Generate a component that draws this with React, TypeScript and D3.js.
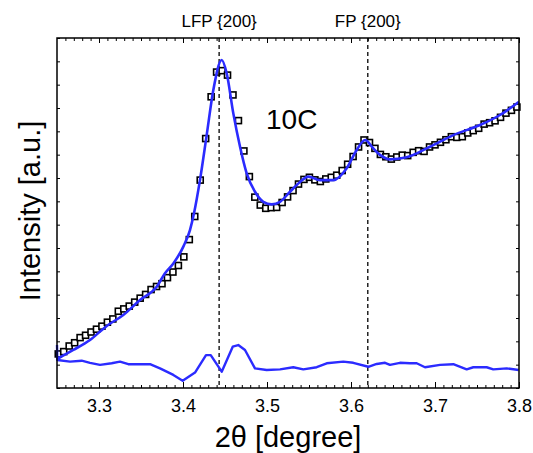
import { useRef, useEffect } from 'react';
import * as d3 from 'd3';

// observed pattern (2theta in degree, intensity in a.u.)
const twoTheta = [
  3.2515, 3.258, 3.2645, 3.271, 3.2775, 3.284, 3.2905, 3.297, 3.3035, 3.31,
  3.3165, 3.323, 3.3295, 3.336, 3.3425, 3.349, 3.3555, 3.362, 3.3685, 3.375,
  3.3815, 3.388, 3.3945, 3.401, 3.4075, 3.414, 3.4205, 3.427, 3.4335, 3.44,
  3.4465, 3.453, 3.4595, 3.466, 3.4725, 3.479, 3.4855, 3.492, 3.4985, 3.505,
  3.5115, 3.518, 3.5245, 3.531, 3.5375, 3.544, 3.5505, 3.557, 3.5635, 3.57,
  3.5765, 3.583, 3.5895, 3.596, 3.6025, 3.609, 3.6155, 3.622, 3.6285, 3.635,
  3.6415, 3.648, 3.6545, 3.661, 3.6675, 3.674, 3.6805, 3.687, 3.6935, 3.7,
  3.7065, 3.713, 3.7195, 3.726, 3.7325, 3.739, 3.7455, 3.752, 3.7585, 3.765,
  3.7715, 3.778, 3.7845, 3.791, 3.7975
];
const observed = [
  146, 156, 180, 194, 216, 226, 240, 252, 265, 282,
  296, 329, 339, 351, 368, 385, 401, 422, 435, 447,
  473, 497, 525, 562, 636, 735, 891, 1069, 1248, 1354,
  1360, 1341, 1256, 1146, 1016, 906, 818, 784, 770, 773,
  774, 795, 819, 846, 874, 894, 903, 892, 885, 896,
  903, 912, 932, 959, 992, 1033, 1063, 1052, 1027, 1001,
  991, 981, 990, 998, 996, 1010, 1017, 1014, 1033, 1042,
  1053, 1064, 1077, 1074, 1077, 1093, 1103, 1113, 1131, 1137,
  1145, 1160, 1178, 1190, 1204
];

// fitted profile
const fitTheta = [
  3.25, 3.2694, 3.2893, 3.3092, 3.3289, 3.3488, 3.3687, 3.3786, 3.3885, 3.4004,
  3.4083, 3.4131, 3.4202, 3.4282, 3.4361, 3.4461, 3.452, 3.4599, 3.4679, 3.4758,
  3.4857, 3.4956, 3.5056, 3.5155, 3.5274, 3.5393, 3.5492, 3.5631, 3.5789, 3.5949,
  3.6068, 3.6167, 3.6266, 3.6345, 3.6464, 3.6663, 3.694, 3.7218, 3.7536, 3.7774,
  3.8
];
const fitted = [
  124, 163, 206, 266, 313, 377, 434, 492, 534, 606,
  677, 749, 891, 1084, 1277, 1406, 1349, 1177, 1034, 920,
  841, 798, 787, 798, 841, 883, 906, 891, 891, 942,
  1020, 1063, 1027, 999, 980, 989, 1034, 1084, 1127, 1170,
  1227
];

// difference curve (offset)
const diffTheta = [
  3.25, 3.2504, 3.2655, 3.2794, 3.2893, 3.3012, 3.3151, 3.325, 3.3349, 3.3607,
  3.3726, 3.3885, 3.3996, 3.4143, 3.4274, 3.433, 3.4461, 3.4592, 3.4658, 3.4738,
  3.4857, 3.4996, 3.5155, 3.5313, 3.5432, 3.5592, 3.5711, 3.5908, 3.6027, 3.6206,
  3.6306, 3.6405, 3.6464, 3.6583, 3.6702, 3.6782, 3.6881, 3.706, 3.7218, 3.7377,
  3.7456, 3.7615, 3.7694, 3.7854, 3.7996
];
const difference = [
  184, 120, 113, 117, 108, 99, 106, 113, 102, 102,
  84, 56, 31, 66, 141, 141, 70, 177, 184, 163,
  84, 77, 80, 89, 80, 89, 106, 113, 108, 91,
  103, 108, 99, 108, 106, 106, 89, 99, 102, 80,
  89, 89, 80, 84, 77
];

const xTickValues = [3.3, 3.4, 3.5, 3.6, 3.7, 3.8];
const markers = [
  { label: 'LFP {200}', pos: 3.443 },
  { label: 'FP {200}', pos: 3.62 }
];
const sampleLabel = '10C';

const font = '"Liberation Sans", Arial, Helvetica, sans-serif';
const blue = '#2b2bff';

export default function App() {
  const svgRef = useRef<SVGSVGElement | null>(null);

  useEffect(() => {
    const width = 533;
    const height = 453;
    const margin = { top: 38, right: 14, bottom: 65, left: 57 };
    const iw = width - margin.left - margin.right;
    const ih = height - margin.top - margin.bottom;

    const svg = d3.select(svgRef.current)
      .attr('width', width)
      .attr('height', height)
      .html('');

    const x = d3.scaleLinear().domain([3.25, 3.8]).range([0, iw]);
    const y = d3.scaleLinear().domain([0, 1500]).range([ih, 0]);

    const g = svg.append('g')
      .attr('transform', `translate(${margin.left},${margin.top})`);

    // ticks (inward)
    const minor = d3.range(326, 381).map(d => d / 100);
    const yTicks = d3.range(0, 1501, 100);

    const xb = g.append('g').attr('transform', `translate(0,${ih})`);
    xb.call(d3.axisBottom(x).tickValues(minor).tickSize(-3).tickFormat(() => ''));
    xb.call(g2 => g2.select('.domain').remove());
    const xbMajor = g.append('g').attr('transform', `translate(0,${ih})`)
      .call(d3.axisBottom(x).tickValues(xTickValues).tickSize(-6).tickPadding(12)
        .tickFormat(d3.format('.1f')));
    xbMajor.select('.domain').remove();
    xbMajor.selectAll('text')
      .attr('font-family', font)
      .attr('font-size', 18)
      .attr('fill', '#000')
      .attr('dy', '0.71em')
      .attr('y', 11);

    const xt = g.append('g')
      .call(d3.axisTop(x).tickValues(minor).tickSize(-3).tickFormat(() => ''));
    xt.select('.domain').remove();
    const xtMajor = g.append('g')
      .call(d3.axisTop(x).tickValues(xTickValues).tickSize(-5).tickFormat(() => ''));
    xtMajor.select('.domain').remove();

    const yl = g.append('g')
      .call(d3.axisLeft(y).tickValues(yTicks).tickSize(-3).tickFormat(() => ''));
    yl.select('.domain').remove();
    const yr = g.append('g').attr('transform', `translate(${iw},0)`)
      .call(d3.axisRight(y).tickValues(yTicks).tickSize(-3).tickFormat(() => ''));
    yr.select('.domain').remove();

    g.selectAll('.tick line').attr('stroke', '#000').attr('stroke-width', 1);

    // reference lines
    g.selectAll('.marker-line')
      .data(markers)
      .enter()
      .append('line')
      .attr('x1', d => x(d.pos))
      .attr('x2', d => x(d.pos))
      .attr('y1', 0)
      .attr('y2', ih)
      .attr('stroke', '#000')
      .attr('stroke-width', 1.3)
      .attr('stroke-dasharray', '4,3');

    svg.selectAll('.marker-label')
      .data(markers)
      .enter()
      .append('text')
      .attr('x', d => margin.left + x(d.pos))
      .attr('y', 27)
      .attr('text-anchor', 'middle')
      .attr('font-family', font)
      .attr('font-size', 17)
      .text(d => d.label);

    // observed squares
    const obs = twoTheta.map((t, i) => ({ t, v: observed[i] }));
    const s = 6;
    g.selectAll('.obs')
      .data(obs)
      .enter()
      .append('rect')
      .attr('x', d => x(d.t) - s / 2)
      .attr('y', d => y(d.v) - s / 2)
      .attr('width', s)
      .attr('height', s)
      .attr('fill', '#fff')
      .attr('stroke', '#000')
      .attr('stroke-width', 1.6);

    // fitted line
    const fit = fitTheta.map((t, i) => ({ t, v: fitted[i] }));
    const fitLine = d3.line<{ t: number; v: number }>()
      .x(d => x(d.t))
      .y(d => y(d.v))
      .curve(d3.curveMonotoneX);
    g.append('path')
      .attr('d', fitLine(fit))
      .attr('fill', 'none')
      .attr('stroke', blue)
      .attr('stroke-width', 2.6);

    // difference line
    const diff = diffTheta.map((t, i) => ({ t, v: difference[i] }));
    const diffLine = d3.line<{ t: number; v: number }>()
      .x(d => x(d.t))
      .y(d => y(d.v));
    g.append('path')
      .attr('d', diffLine(diff))
      .attr('fill', 'none')
      .attr('stroke', blue)
      .attr('stroke-width', 2.4)
      .attr('stroke-linejoin', 'round');

    // frame
    g.append('rect')
      .attr('width', iw)
      .attr('height', ih)
      .attr('fill', 'none')
      .attr('stroke', '#000')
      .attr('stroke-width', 1.5);

    // sample label
    g.append('text')
      .attr('x', 266 - margin.left)
      .attr('y', 129 - margin.top)
      .attr('font-family', font)
      .attr('font-size', 28)
      .text(sampleLabel);

    // axis titles
    svg.append('text')
      .attr('x', margin.left + iw / 2)
      .attr('y', 447)
      .attr('text-anchor', 'middle')
      .attr('font-family', font)
      .attr('font-size', 29)
      .text('2θ [degree]');

    svg.append('text')
      .attr('transform', `translate(40,${margin.top + ih / 2 - 2}) rotate(-90)`)
      .attr('text-anchor', 'middle')
      .attr('font-family', font)
      .attr('font-size', 29)
      .text('Intensity [a.u.]');
  }, []);

  return (
    <svg ref={svgRef} style={{ position: 'absolute', left: 0, top: 0, display: 'block' }}></svg>
  );
}
